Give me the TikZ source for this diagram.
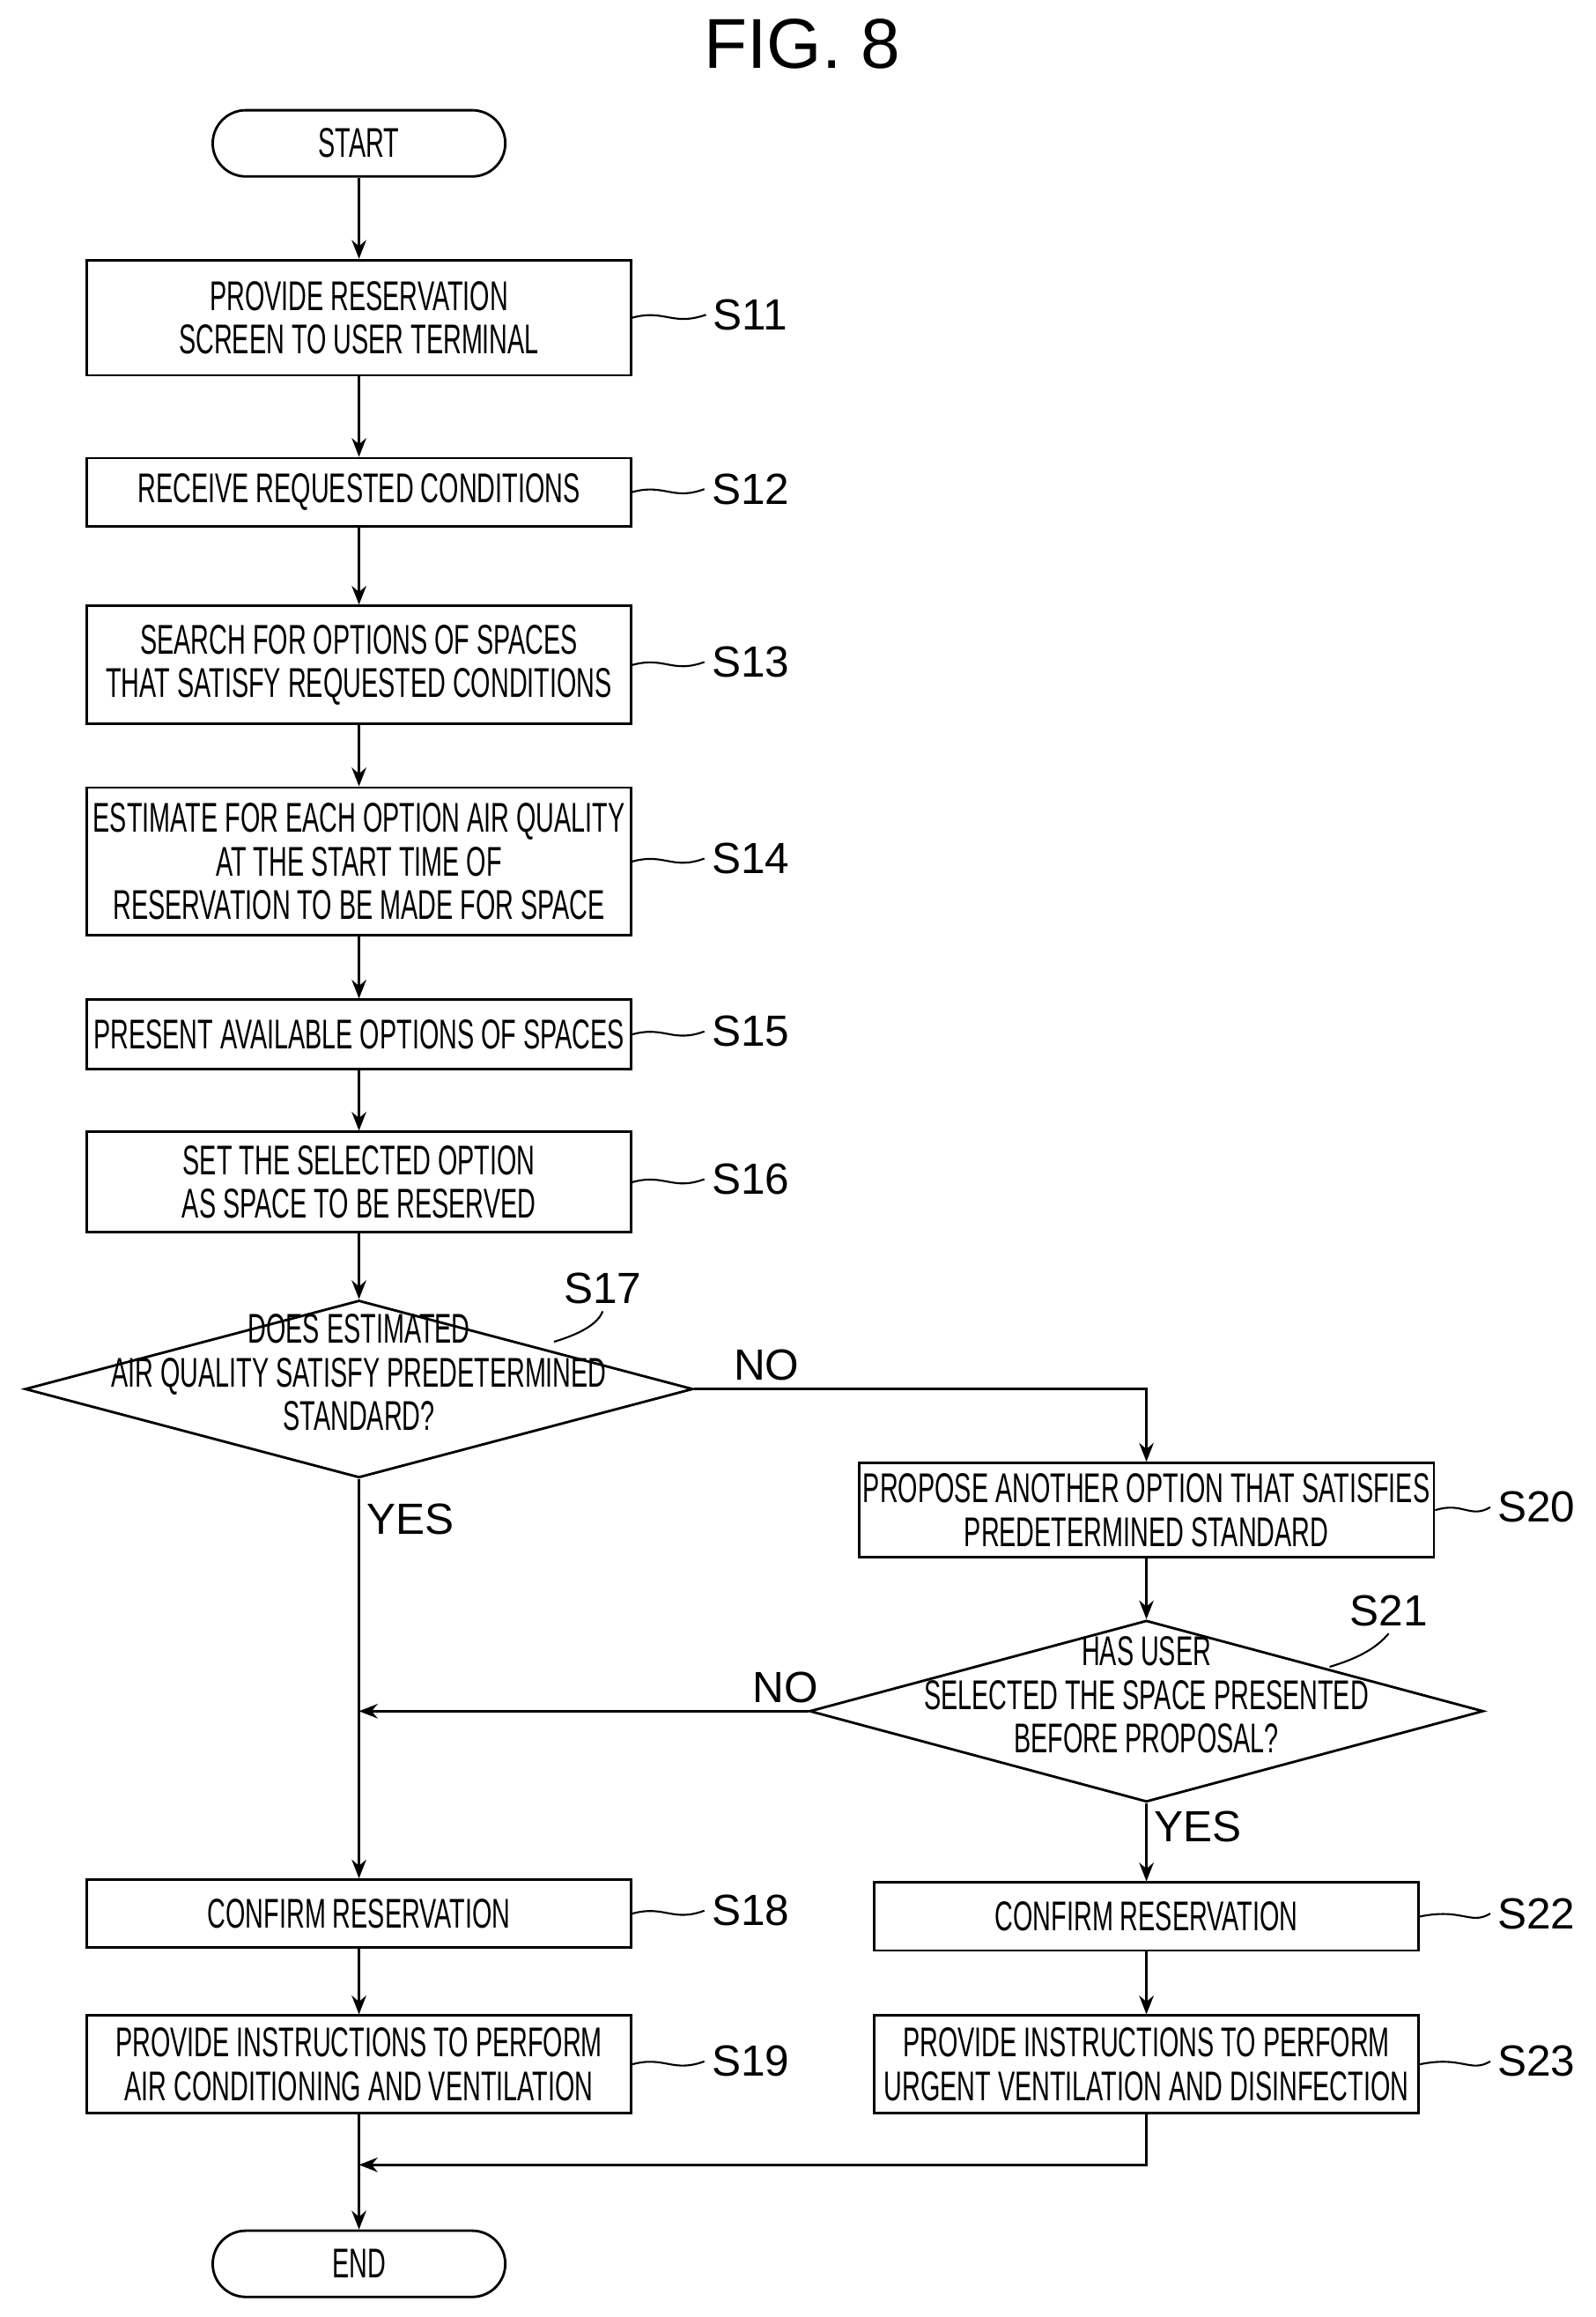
\documentclass[tikz,border=0pt]{standalone}
\usepackage{fontspec}
\setmainfont{Liberation Sans}
\newfontfamily\narrowfont[FakeStretch=0.61]{Liberation Sans}
\usetikzlibrary{positioning,shapes.geometric,arrows.meta}
\tikzset{
  box/.style={rectangle, draw=black, line width=1.2pt, minimum width=9.2cm, align=center, font=\narrowfont\fontsize{20}{21}\selectfont, inner sep=2pt},
  term/.style={rectangle, rounded corners=0.56cm, draw=black, line width=1.2pt, minimum width=4.95cm, minimum height=1.12cm, font=\narrowfont\fontsize{20}{21}\selectfont},
  dec/.style={diamond, draw=black, line width=1.2pt, aspect=3.75, inner sep=0pt, font=\narrowfont\fontsize{20}{21}\selectfont},
  lab/.style={font=\fontsize{21}{24}\selectfont},
  flow/.style={line width=1.2pt, -{Stealth[length=9pt,width=7pt]}},
  lead/.style={line width=0.9pt}
}
\newcommand{\dtext}[1]{\smash{\makebox[0pt]{\begin{tabular}{@{}c@{}}#1\end{tabular}}}}
\begin{document}
\begin{tikzpicture}[x=0.025cm, y=-0.025cm]
\useasboundingbox (0,0) rectangle (1080,1568);
\node[font=\fontsize{34}{40}\selectfont] (title) at (543,30) {FIG. 8};
% nodes
\node[term] (start) at (243,97) {START};
\node[box, minimum height=1.95cm] (s11) at (243,215) {PROVIDE RESERVATION\\SCREEN TO USER TERMINAL};
\node[box, minimum height=1.15cm] (s12) at (243,333) {RECEIVE REQUESTED CONDITIONS};
\node[box, minimum height=2cm] (s13) at (243,450) {SEARCH FOR OPTIONS OF SPACES\\THAT SATISFY REQUESTED CONDITIONS};
\node[box, minimum height=2.5cm] (s14) at (243,583) {ESTIMATE FOR EACH OPTION AIR QUALITY\\AT THE START TIME OF\\RESERVATION TO BE MADE FOR SPACE};
\node[box, minimum height=1.17cm] (s15) at (243,700) {PRESENT AVAILABLE OPTIONS OF SPACES};
\node[box, minimum height=1.7cm] (s16) at (243,800) {SET THE SELECTED OPTION\\AS SPACE TO BE RESERVED};
\node[dec, minimum width=11.3cm, minimum height=3cm] (s17) at (243,940) {\dtext{DOES ESTIMATED\\AIR QUALITY SATISFY PREDETERMINED\\STANDARD?}};
\node[box, minimum width=9.7cm, minimum height=1.6cm] (s20) at (776,1022) {PROPOSE ANOTHER OPTION THAT SATISFIES\\PREDETERMINED STANDARD};
\node[dec, minimum width=11.4cm, minimum height=3.07cm] (s21) at (776,1158) {\dtext{HAS USER\\SELECTED THE SPACE PRESENTED\\BEFORE PROPOSAL?}};
\node[box, minimum height=1.15cm] (s18) at (243,1295) {CONFIRM RESERVATION};
\node[box, minimum height=1.15cm] (s22) at (776,1297) {CONFIRM RESERVATION};
\node[box, minimum height=1.65cm] (s19) at (243,1397) {PROVIDE INSTRUCTIONS TO PERFORM\\AIR CONDITIONING AND VENTILATION};
\node[box, minimum height=1.65cm] (s23) at (776,1397) {PROVIDE INSTRUCTIONS TO PERFORM\\URGENT VENTILATION AND DISINFECTION};
\node[term] (end) at (243,1532) {END};
\coordinate (join21) at (243,1158);
\coordinate (join23) at (243,1465);
% step labels
\foreach \n/\y/\lx in {11/215/508, 12/333/508, 13/450/508, 14/583/508, 15/700/508, 16/800/508, 18/1295/508, 19/1397/508}{
  \node[lab] (l\n) at (\lx,\y-2) {S\n};
  \draw[lead] (s\n.east |- 0,\y) .. controls (450,\y-6) and (455,\y+6) .. (l\n.west);
}
\foreach \n/\y in {20/1022, 22/1297, 23/1397}{
  \node[lab] (l\n) at (1040,\y-2) {S\n};
  \draw[lead] (s\n.east |- 0,\y) .. controls (990,\y-6) and (995,\y+6) .. (l\n.west);
}
\node[lab] (l17) at (408,872) {S17};
\draw[lead] (375,908) .. controls (395,902) and (405,895) .. (l17.south);
\node[lab] (l21) at (940,1090) {S21};
\draw[lead] (900,1128) .. controls (920,1122) and (932,1115) .. (l21.south);
% connectors
\draw[flow] (start) -- (s11);
\draw[flow] (s11) -- (s12);
\draw[flow] (s12) -- (s13);
\draw[flow] (s13) -- (s14);
\draw[flow] (s14) -- (s15);
\draw[flow] (s15) -- (s16);
\draw[flow] (s16) -- (s17);
\draw[flow] (s17.east) -| node[pos=0.08, above, lab] {NO} (s20.north);
\draw[flow] (s17.south) -- node[pos=0.1, right, lab] {YES} (s18);
\draw[flow] (s20) -- (s21);
\draw[flow] (s21.west) -- node[pos=0.05, above, lab] {NO} (join21);
\draw[flow] (s21.south) -- node[pos=0.3, right, lab] {YES} (s22);
\draw[flow] (s18) -- (s19);
\draw[flow] (s22) -- (s23);
\draw[flow] (s19) -- (end);
\draw[flow] (s23.south) |- (join23);
\end{tikzpicture}
\end{document}
